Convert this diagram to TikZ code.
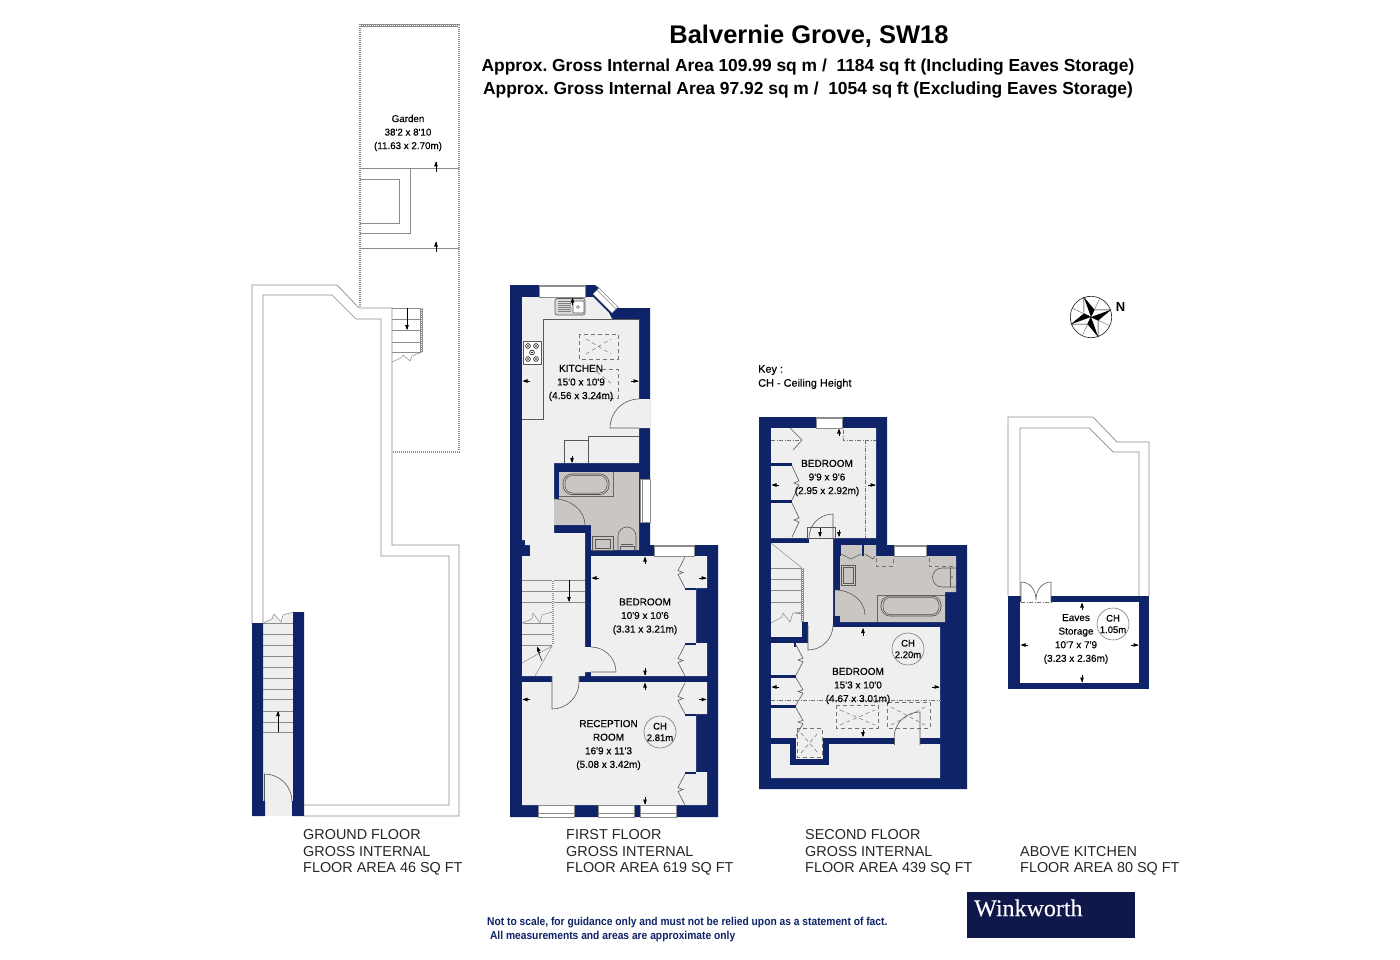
\documentclass[tikz,border=0pt]{standalone}
\usepackage{fontspec}
\setmainfont{Liberation Sans}
\newfontfamily\medfont[FakeBold=0.35]{Liberation Sans}
\newfontfamily\condfont[FakeStretch=0.9]{Liberation Sans}
\newfontfamily\serfont[FakeBold=0.2]{Liberation Serif}
\definecolor{navy}{HTML}{0E2368}
\definecolor{floorc}{HTML}{EFEFEF}
\definecolor{bathc}{HTML}{C9C6C3}
\definecolor{linec}{HTML}{8C8C8C}
\definecolor{badge}{HTML}{10174A}
\tikzset{
  x=1pt,y=-1pt,
  wall/.style={fill=navy,draw=none},
  floorp/.style={fill=floorc,draw=none},
  bathp/.style={fill=bathc,draw=none},
  thin line/.style={draw=linec,line width=0.7pt},
  dark line/.style={draw=black!65,line width=0.6pt},
  hatch/.style={preaction={draw=black!45,line width=2.9pt,solid},draw=white,line width=1.7pt,dash pattern=on 1pt off 1pt},
  glass/.style={fill=white,draw=linec,line width=0.6pt},
  roof/.style={draw=black!55,line width=0.5pt,dash pattern=on 4pt off 3pt},
  dotdash/.style={draw=black!55,line width=0.5pt,dash pattern=on 4pt off 1.5pt on 1pt off 1.5pt},
  roomlabel/.style={font=\medfont\fontsize{10}{13.6}\selectfont,align=center,text=black,inner sep=0pt},
  floorlabel/.style={font=\fontsize{14.4}{16.4}\selectfont,align=left,anchor=north west,inner sep=0pt,text=black!85},
  chcircle/.style={circle,draw=black!60,line width=0.5pt,minimum size=30pt,inner sep=0pt,align=center,font=\medfont\fontsize{9.5}{11.5}\selectfont},
}
% dimension mark: tip at (x,y); angle in image sense (0 right, 90 down, 180 left, -90 up)
\newcommand{\dmark}[3]{\fill[black,shift={(#1,#2)},rotate=-#3] (0,0)--(-5,-1.9)--(-5,1.9)--cycle;\draw[black,line width=0.5pt,shift={(#1,#2)},rotate=-#3] (-7.5,0)--(-1,0);}
% window: horizontal
\newcommand{\hwin}[4]{\draw[glass] (#1,#3) rectangle (#2,#4);\draw[linec,line width=0.8pt] (#1,{#3+1.2}) -- (#2,{#3+1.2});}
\newcommand{\hwinb}[4]{\draw[glass] (#1,#3) rectangle (#2,#4);\draw[linec,line width=0.5pt] (#1,{#4-4}) -- (#2,{#4-4});}
% bifold door: x, ytop, height, direction
\newcommand{\zig}[4]{\draw[dark line] (#1,#2)--({#1+7*#4},{#2+0.44*#3})--({#1+2*#4},{#2+0.5*#3})--({#1+7*#4},{#2+0.56*#3})--(#1,{#2+#3});}
\begin{document}
\begin{tikzpicture}
\frenchspacing
\useasboundingbox (0,0) rectangle (1400,960);
\fill[white] (0,0) rectangle (1400,960);

%%% ---------- Ground floor outline
\draw[thin line] (252,623)--(252,285)--(337,285)--(359,308)--(392,308)--(392,545)--(459,545)--(459,816)--(304,816);
\draw[thin line] (263,623)--(263,295)--(332,295)--(356,319)--(381,319)--(381,556)--(449,556)--(449,805)--(304,805);
% garden
\draw[hatch] (360,308)--(360,25.5)--(459,25.5)--(459,452)--(393,452);
\draw[thin line] (360,168)--(459,168);
\draw[thin line] (410,168)--(410,233)--(360,233);
\draw[thin line] (360,179)--(399,179)--(399,223)--(360,223);
\draw[thin line] (360,248)--(459,248);
\dmark{436}{161.5}{-90}\draw[black,line width=0.5pt] (436,162)--(436,172);
\dmark{436}{241.5}{-90}\draw[black,line width=0.5pt] (436,242)--(436,252);
% garden stairs
\draw[thin line] (392,308)--(421,308);
\foreach \yy in {319,330,342,352}{\draw[thin line] (392,\yy)--(421,\yy);}
\draw[hatch] (421.5,308)--(421.5,352);
\draw[thin line,line width=0.5pt] (392,362)--(401,358)--(403,355)--(410,361)--(412,356)--(422,352);
\draw[black,line width=0.5pt] (407,308)--(407,328);\dmark{407}{330}{90}
\node[roomlabel,font=\medfont\fontsize{9.8}{13.5}\selectfont] (garden) at (408,133) {Garden\\38'2 x 8'10\\(11.63 x 2.70m)};

% ground floor stair hall
\fill[floorc] (263,622) rectangle (293,816);
\fill[floorc] (263,623)--(272,619)--(274,614)--(281,622)--(283,615)--(293,612)--(293,623)--cycle;
\fill[wall] (252,623)--(263,623)--(263,801)--(265,801)--(265,816)--(252,816)--cycle;
\fill[wall] (293,612)--(304,612)--(304,816)--(292,816)--(292,801)--(293,801)--cycle;
\foreach \yy in {623,634,645,656,667,678,689,699,711,722,732}{\draw[thin line,line width=0.5pt] (263,\yy)--(293,\yy);}
\draw[thin line,line width=0.5pt] (263,623)--(272,619)--(274,614)--(281,622)--(283,615)--(293,612);
\draw[black,line width=0.5pt] (278,732)--(278,715);\dmark{278}{711}{-90}
\draw[dark line] (264.5,801)--(264.5,774) arc[start angle=-90,end angle=0,radius=27.5];

%%% ---------- First floor
\fill[wall] (510,285)--(595,285)--(599,288)--(618,307)--(618,308)--(650,308)--(650,545)--(718,545)--(718,817)--(510,817)--cycle;
% kitchen + hall + stairs
\fill[floorp] (522,297)--(593,297)--(609,313)--(612,319)--(639,319)--(639,399)--(650,399)--(650,428)--(639,428)--(639,463)--(554,463)--(554,533)--(585,533)--(585,647)--(591,647)--(591,672)--(585,672)--(585,676)--(579,676)--(579,682)--(552,682)--(552,676)--(522,676)--(522,556)--(530,556)--(530,545)--(525,545)--(525,540)--(522,540)--cycle;
% bedroom
\fill[floorp] (591,556)--(707,556)--(707,588)--(696,588)--(696,643)--(707,643)--(707,676)--(591,676)--cycle;
% reception
\fill[floorp] (522,682)--(707,682)--(707,714)--(696,714)--(696,772)--(707,772)--(707,805)--(522,805)--cycle;
% bathroom
\fill[bathp] (559,472)--(639,472)--(639,550)--(591,550)--(591,525)--(554,525)--(554,499)--(559,499)--cycle;
% windows
\hwin{539}{585}{285}{297}
\hwin{654}{694}{545}{556}
\hwinb{538}{574}{805}{817}
\hwinb{598}{634}{805}{817}
\hwinb{640}{676}{805}{817}
\draw[glass] (640,479) rectangle (650,522);
\draw[linec,line width=0.5pt] (642,479)--(642,522);
\fill[white,draw=linec,line width=0.6pt] (599,288)--(618,307)--(612,313)--(593,294)--cycle;
\draw[linec,line width=0.5pt] (597,290)--(616,309);
% kitchen fittings
\draw[dark line] (522,419)--(543,419)--(543,319)--(639,319);
\draw[dark line] (564,463)--(564,440)--(588,440)--(588,463);
\draw[dark line] (588,440)--(588,436)--(639,436);
\draw[dark line,rounded corners=2pt,fill=black!15] (555,298.5) rectangle (585,315);
\draw[dark line,fill=white,rounded corners=1pt] (573,301) rectangle (584,313);
\draw[black!50,line width=0.3pt] (558,301.5)--(571,301.5) (558,303.5)--(571,303.5) (558,305.5)--(571,305.5) (558,307.5)--(571,307.5) (558,309.5)--(571,309.5) (558,311.5)--(571,311.5);
\draw[black!60,line width=0.4pt] (578,307) circle (1.5);
\dmark{572.5}{297.5}{-90}
\draw[dark line,fill=white] (523.5,341) rectangle (541,364);
\foreach \xx/\yy in {528/346,536/346,528/359,536/359,532/352.5}{\draw[black,line width=0.6pt] (\xx,\yy) circle (2.4);\fill[black] (\xx,\yy) circle (0.8);}
\draw[roof] (579,334) rectangle (618,359);
\draw[roof] (586,339)--(611,354) (586,354)--(611,339);
\draw[roof] (602,369)--(618,369)--(618,398)--(590,398);
\draw[roof] (597,372)--(612,384);
\dmark{522.5}{381}{180}
\dmark{638.5}{381}{0}
\dmark{572}{463}{90}
% kitchen door
\draw[dark line] (639,399) arc[start angle=-90,end angle=-180,radius=29] --(639,428);
% bath fittings
\draw[black!60,line width=0.6pt] (559,496)--(613,496)--(613,472);
\draw[black!70,line width=0.6pt,rounded corners=9pt] (563,474) rectangle (609,494.5);
\draw[black!70,line width=0.5pt,rounded corners=7.5pt] (565,475.5) rectangle (607,493);
\draw[dark line] (554,499) arc[start angle=-90,end angle=0,x radius=31,y radius=26];
\draw[dark line] (592.5,536.5) rectangle (613,550);
\draw[dark line] (595,539) rectangle (610.5,548);
\draw[dark line] (618,550)--(618,536) arc[start angle=180,end angle=360,radius=9]--(636,550);
\draw[dark line] (621,544)--(633,544) (620,550)--(620,546)--(634,546)--(634,550);
% first-floor bedroom fittings
\fill[wall] (685,588)--(696,588)--(696,590)--(685,590)--cycle;
\fill[wall] (685,643)--(696,643)--(696,645)--(685,645)--cycle;
\zig{685}{557}{31}{-1}
\zig{685}{645}{31}{-1}
\dmark{645}{556.5}{-90}
\dmark{591.5}{578}{180}
\dmark{706.5}{578}{0}
\dmark{645}{675.5}{90}
\node[roomlabel] (bed1) at (645,616.5) {BEDROOM\\10'9 x 10'6\\(3.31 x 3.21m)};
% reception fittings
\fill[wall] (685,714)--(696,714)--(696,716)--(685,716)--cycle;
\fill[wall] (685,772)--(696,772)--(696,774)--(685,774)--cycle;
\zig{685}{683}{31}{-1}
\zig{685}{774}{31}{-1}
\dmark{645}{682.5}{-90}
\dmark{522.5}{699.5}{180}
\dmark{706.5}{699.5}{0}
\dmark{645}{804.5}{90}
\node[roomlabel] (recep) at (608.5,745) {RECEPTION\\ROOM\\16'9 x 11'3\\(5.08 x 3.42m)};
\node[chcircle] (ch1) at (660,732) {CH\\2.81m};
\node[roomlabel] (kitchen) at (581,383) {KITCHEN\\15'0 x 10'9\\(4.56 x 3.24m)};
% stairs
\foreach \yy in {612,623,634,645}{\draw[thin line,line width=0.5pt] (522,\yy)--(552,\yy);}
\draw[thin line,line width=0.5pt] (522,580)--(585,580) (522,602)--(585,602) (522,591)--(585,591);
\draw[hatch,line width=1.4pt] (553,580)--(553,645);
\fill[floorc] (522,624)--(532,619.5)--(533,613)--(540,623)--(542,615)--(552,612)--(522,612)--cycle;
\draw[thin line,line width=0.5pt] (522,623)--(532,619)--(533,613)--(540,623)--(542,615)--(552,612);
\draw[thin line,line width=0.5pt] (522,663)--(552,646)--(535,676);
\draw[black,line width=0.5pt] (569,580)--(569,600);\dmark{569}{602}{90}
\draw[black,line width=0.5pt] (542,661)--(538,651);\dmark{537}{646.5}{-112}
% doors
\draw[dark line] (552,676)--(552,709) arc[start angle=90,end angle=0,radius=27]--(579,676);
\draw[dark line] (591,647) arc[start angle=-90,end angle=0,radius=25]--(591,672);

%%% ---------- Second floor
\fill[wall] (759,417)--(887,417)--(887,545)--(967,545)--(967,789)--(759,789)--cycle;
\fill[floorp] (771,428)--(876,428)--(876,538)--(833,538)--(833,543)--(809,543)--(809,538)--(771,538)--cycle;
\fill[floorp] (771,543)--(833,543)--(833,627)--(808,627)--(808,622)--(802,622)--(802,637)--(771,637)--cycle;
\fill[floorp] (796,627)--(940,627)--(940,738)--(796,738)--(796,738)--(771,738)--(771,643)--(796,643)--cycle;
\fill[floorp] (771,744)--(790,744)--(790,765)--(829,765)--(829,744)--(940,744)--(940,778)--(771,778)--cycle;
\fill[wall] (790,738)--(829,738)--(829,765)--(790,765)--cycle;
\fill[floorp] (796,736)--(823,736)--(823,759)--(796,759)--cycle;
\fill[wall] (771,738)--(796,738)--(796,744)--(771,744)--cycle;
\fill[wall] (823,738)--(894,738)--(894,744)--(823,744)--cycle;
\fill[wall] (920,738)--(940,738)--(940,744)--(920,744)--cycle;
\fill[wall] (771,637)--(808,637)--(808,643)--(771,643)--cycle;
\fill[wall] (802,622)--(808,622)--(808,637)--(802,637)--cycle;
\fill[bathp] (840,545)--(876,545)--(876,556)--(956,556)--(956,592)--(945,592)--(945,622)--(840,622)--(840,616)--(835,616)--(835,590)--(840,590)--cycle;
% windows
\hwin{816}{842}{417}{428}
\hwin{894}{926}{545}{556}
% shelves & doors upper bedroom
\fill[wall] (771,463)--(792,463)--(792,466)--(771,466)--cycle;
\fill[wall] (771,500)--(792,500)--(792,503)--(771,503)--cycle;
\zig{792}{466}{34}{1}
\zig{792}{503}{34}{1}
\draw[dark line] (790,428)--(802,440)--(793,450);
\draw[dotdash] (771,440)--(802,440);
\draw[dotdash] (843,430)--(843,440)--(876,440);
\draw[dotdash] (865,440)--(865,538);
\dmark{839}{428.5}{-90}
\dmark{771.5}{485}{180}
\dmark{875.5}{485}{0}
\dmark{820}{537}{90}\draw[black,line width=0.5pt] (820,527)--(820,533);
\dmark{839}{537}{90}
\draw[dark line] (807,527) rectangle (835,538);
\draw[dark line] (809,538) arc[start angle=180,end angle=270,radius=24]--(833,538);
\node[roomlabel] (bed2) at (827,478) {BEDROOM\\9'9 x 9'6\\(2.95 x 2.92m)};
% stairs second floor
\foreach \yy in {568,579,590,602,613}{\draw[thin line,line width=0.5pt] (771,\yy)--(802,\yy);}
\draw[thin line,line width=0.5pt] (771,543)--(802,568);
\draw[hatch,line width=1.4pt] (802.5,568)--(802.5,622);
\fill[floorc] (771,623.5)--(782,617.5)--(783,613.5)--(790,622)--(793,614)--(802,612.5)--(771,612.5)--cycle;
\draw[thin line,line width=0.5pt] (771,623)--(782,617)--(783,613)--(790,622)--(793,613)--(802,612);
% bath fittings second floor
\fill[wall] (862,545)--(864,545)--(864,556)--(862,556)--cycle;
\fill[wall] (839,556)--(841,556)--(841,545)--(839,545)--cycle;
\draw[dark line] (841,554)--(851,559)--(861,554);
\draw[dark line] (865,554)--(873,559)--(875,556);
\draw[roof] (876,558)--(876,566)--(893,566)--(893,558);
\draw[roof] (929,558)--(929,566)--(956,566);
\draw[dark line] (841,565) rectangle (855,585);
\draw[dark line] (843,567) rectangle (853,583);
\draw[dark line] (956,568)--(942,568) arc[start angle=-90,end angle=-270,radius=9.5]--(956,587);
\draw[dark line] (950,568)--(950,587);
\fill[black!60] (952,577) circle (0.9);
\draw[black!60,line width=0.6pt] (877,622)--(877,595)--(945,595);
\draw[black!70,line width=0.6pt,rounded corners=9pt] (881,596) rectangle (941,616);
\draw[black!70,line width=0.5pt,rounded corners=7.5pt] (883,597.5) rectangle (939,614.5);
\draw[dark line] (835,590) arc[start angle=-90,end angle=0,x radius=30,y radius=25];
\fill[wall] (833,616)--(840,616)--(840,625)--(833,625)--cycle;
% lower bedroom fittings
\fill[wall] (771,675)--(796,675)--(796,678)--(771,678)--cycle;
\fill[wall] (771,705)--(796,705)--(796,708)--(771,708)--cycle;
\fill[wall] (794,643)--(796,643)--(796,647)--(794,647)--cycle;
\zig{796}{645}{30}{1}
\zig{796}{678}{27}{1}
\zig{796}{708}{28}{1}
\draw[dotdash] (771,700)--(941,700);
\draw[roof] (836,705) rectangle (878,728);
\draw[roof] (840,710)--(875,725) (840,725)--(875,710);
\draw[roof] (887,702) rectangle (930,728);
\draw[roof] (891,707)--(925,725) (891,725)--(925,707);
\draw[roof] (797,728) rectangle (822,757);
\draw[roof] (801,733)--(818,753) (801,753)--(818,733);
\dmark{771.5}{687}{180}
\dmark{939.5}{687}{0}
\dmark{863}{628}{-90}
\dmark{863}{737}{90}
\fill[floorc] (894,737) rectangle (920,745);
\draw[dark line] (894,738) arc[start angle=180,end angle=270,radius=26]--(920,745);
\draw[dark line] (894,738)--(894,745);
\draw[dark line] (808,625)--(808,650) arc[start angle=90,end angle=0,radius=25]--(833,625);
\node[roomlabel] (bed3) at (858,686) {BEDROOM\\15'3 x 10'0\\(4.67 x 3.01m)};
\node[chcircle] (ch2) at (908,649) {CH\\2.20m};

%%% ---------- Eaves
\draw[thin line] (1008,596)--(1008,417)--(1093,417)--(1117,442)--(1149,442)--(1149,596);
\draw[thin line] (1020,596)--(1020,428)--(1089,428)--(1113,452)--(1139,452)--(1139,596);
\fill[wall] (1008,596) rectangle (1149,689);
\fill[white] (1020,602) rectangle (1139,683);
\fill[white] (1021,596) rectangle (1051,602);
\draw[dotdash] (1021,602)--(1051,602);
\draw[dark line] (1021,602)--(1021,582) .. controls (1030,582) and (1036,590) .. (1036,600) .. controls (1036,590) and (1042,582) .. (1051,582)--(1051,602);
\dmark{1082}{602.5}{-90}
\dmark{1082}{682.5}{90}
\dmark{1020.5}{645}{180}
\dmark{1138.5}{645}{0}
\node[roomlabel] (eaves) at (1076,639) {Eaves\\Storage\\10'7 x 7'9\\(3.23 x 2.36m)};
\node[chcircle] (ch3) at (1113,624) {CH\\1.05m};

%%% ---------- Compass
\begin{scope}[shift={(1091,317)},rotate=20]
\draw[black!80,fill=white,line width=0.7pt] (0,0) circle (20.7);
\draw[black!60,line width=0.4pt] (-14.6,-14.6)--(14.6,14.6) (-14.6,14.6)--(14.6,-14.6);
\foreach \a in {0,90,180,270}{
  \begin{scope}[rotate=\a]
  \fill[white,draw=black,line width=0.4pt] (0,0)--(5.5,-5.5)--(0,-21)--(-5.5,-5.5)--cycle;
  \fill[black] (0,0)--(5.5,-5.5)--(0,-21)--cycle;
  \end{scope}}
\end{scope}
\node[inner sep=0pt,font=\bfseries\fontsize{13}{15}\selectfont] (north) at (1120.5,307) {N};

%%% ---------- Texts
\node[inner sep=0pt,font=\bfseries\fontsize{25.5}{30}\selectfont] (title) at (809,36.5) {Balvernie Grove, SW18};
\node[inner sep=0pt,font=\bfseries\fontsize{17.4}{20}\selectfont] (area1) at (808,67) {Approx. Gross Internal Area 109.99 sq m /\ \ 1184 sq ft (Including Eaves Storage)};
\node[inner sep=0pt,font=\bfseries\fontsize{17.4}{20}\selectfont] (area2) at (808,90) {Approx. Gross Internal Area 97.92 sq m /\ \ 1054 sq ft (Excluding Eaves Storage)};
\node[inner sep=0pt,anchor=north west,align=left,font=\medfont\fontsize{10.9}{14}\selectfont] (key) at (758,365) {Key :\\CH - Ceiling Height};
\node[floorlabel] (gf) at (303,829.5) {GROUND FLOOR\\GROSS INTERNAL\\FLOOR AREA 46 SQ FT};
\node[floorlabel] (ff) at (566,829.5) {FIRST FLOOR\\GROSS INTERNAL\\FLOOR AREA 619 SQ FT};
\node[floorlabel] (sf) at (805,829.5) {SECOND FLOOR\\GROSS INTERNAL\\FLOOR AREA 439 SQ FT};
\node[floorlabel] (ak) at (1020,846) {ABOVE KITCHEN\\FLOOR AREA 80 SQ FT};
\node[inner sep=0pt,anchor=north west,align=left,text=navy,font=\condfont\bfseries\fontsize{11.4}{13.6}\selectfont] (note) at (487,917) {Not to scale, for guidance only and must not be relied upon as a statement of fact.\\\ All measurements and areas are approximate only};
\node[fill=badge,minimum width=168pt,minimum height=46pt,inner sep=0pt,anchor=north west] (badgebox) at (967,892) {};
\node[text=white,inner sep=0pt,anchor=west,font=\serfont\fontsize{24}{26}\selectfont] (badgetext) at (974,908) {Winkworth};
\end{tikzpicture}
\end{document}
